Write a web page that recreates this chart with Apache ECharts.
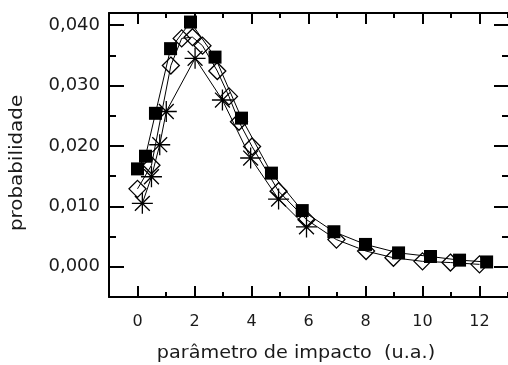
<!DOCTYPE html>
<html>
<head>
<meta charset="utf-8">
<script src="https://cdn.jsdelivr.net/npm/echarts@6/dist/echarts.min.js"></script>
<style>html,body{margin:0;padding:0;background:#fff;}#c{width:508px;height:365px;}</style>
</head>
<body>
<div id="c"></div>
<script>
// Data
var squareX = [0.0, 0.28, 0.63, 1.16, 1.86, 2.72, 3.65, 4.70, 5.78, 6.89, 8.0, 9.16, 10.28, 11.3, 12.25];
var squareY = [0.0162, 0.0183, 0.0254, 0.0361, 0.0405, 0.0347, 0.0246, 0.0155, 0.0093, 0.0058, 0.0037, 0.0023, 0.0017, 0.0011, 0.0008];
var diamondX = [0.0, 0.49, 1.17, 1.55, 1.93, 2.28, 2.80, 3.21, 3.56, 4.02, 4.95, 5.93, 6.98, 8.02, 8.98, 10.0, 10.98, 12.0];
var diamondY = [0.0129, 0.0168, 0.0333, 0.0378, 0.0380, 0.0366, 0.0324, 0.0282, 0.0240, 0.0199, 0.0125, 0.0078, 0.0045, 0.0026, 0.0015, 0.0009, 0.0007, 0.0004];
var starX = [0.17, 0.49, 0.78, 1.01, 2.02, 2.98, 3.97, 4.95, 5.93];
var starY = [0.0105, 0.0149, 0.0202, 0.0257, 0.0345, 0.0276, 0.0180, 0.0112, 0.0066];
var xMajorTicks = [0, 2, 4, 6, 8, 10, 12];
var xMinorTicks = [-1, 1, 3, 5, 7, 9, 11, 13];
var yMajorTicks = [0, 0.01, 0.02, 0.03, 0.04];
var yMinorTicks = [0.005, 0.015, 0.025, 0.035];
var xTitle = 'parâmetro de impacto  (u.a.)';
var yTitle = 'probabilidade';

function zip(a, b) { return a.map(function (v, i) { return [v, b[i]]; }); }

var FONT = 'DejaVu Sans';
var TXT = '#1a1a1a';

function xAx(pos, ticks, len, showLine, showLabel) {
  return {
    type: 'value', position: pos, min: -1, max: 13, interval: 1,
    axisLine: { show: showLine, onZero: false, lineStyle: { color: '#000', width: 2 } },
    axisTick: { show: true, inside: true, length: len, customValues: ticks, lineStyle: { color: '#000', width: 2 } },
    axisLabel: { show: showLabel, customValues: xMajorTicks, margin: 17, color: TXT, fontFamily: FONT, fontSize: 16 },
    splitLine: { show: false }
  };
}
function yAx(pos, ticks, len, showLine, showLabel) {
  return {
    type: 'value', position: pos, min: -0.005, max: 0.042, interval: 0.005,
    axisLine: { show: showLine, onZero: false, lineStyle: { color: '#000', width: 2 } },
    axisTick: { show: true, inside: true, length: len, customValues: ticks, lineStyle: { color: '#000', width: 2 } },
    axisLabel: { show: showLabel, customValues: yMajorTicks, margin: 9, color: TXT, fontFamily: FONT, fontSize: 18,
      formatter: function (v) { return v.toFixed(3).replace('.', ','); } },
    splitLine: { show: false }
  };
}

var chart = echarts.init(document.getElementById('c'), null, { renderer: 'canvas' });
chart.setOption({
  animation: false,
  backgroundColor: '#fff',
  grid: { left: 109, top: 13, right: -3, bottom: 68, containLabel: false },
  xAxis: [
    xAx('bottom', xMajorTicks, 11, true, true),
    xAx('bottom', xMinorTicks, 5, false, false),
    xAx('top', xMajorTicks, 11, true, false),
    xAx('top', xMinorTicks, 5, false, false)
  ],
  yAxis: [
    yAx('left', yMajorTicks, 15, true, true),
    yAx('left', yMinorTicks, 7, false, false),
    yAx('right', yMajorTicks, 14, false, false),
    yAx('right', yMinorTicks, 6, false, false)
  ],
  graphic: [
    { type: 'text', x: 296, y: 354, scaleX: 1.13, style: { text: xTitle, fill: TXT, font: '17px "DejaVu Sans"', textAlign: 'center', textVerticalAlign: 'middle' } },
    { type: 'text', x: 18, y: 163, rotation: Math.PI / 2, scaleX: 1.17, style: { text: yTitle, fill: TXT, font: '17px "DejaVu Sans"', textAlign: 'center', textVerticalAlign: 'middle' } }
  ],
  series: [
    {
      type: 'line', data: zip(starX, starY), symbol: 'path://M0,-10L0,10M-10,0L10,0M-7.07,-7.07L7.07,7.07M-7.07,7.07L7.07,-7.07',
      symbolSize: 21, lineStyle: { color: '#000', width: 1 },
      itemStyle: { color: 'rgba(0,0,0,0)', borderColor: '#000', borderWidth: 1.3 }, z: 2
    },
    {
      type: 'line', data: zip(diamondX, diamondY), symbol: 'diamond', symbolSize: [17, 17],
      lineStyle: { color: '#000', width: 1 },
      itemStyle: { color: 'rgba(0,0,0,0)', borderColor: '#000', borderWidth: 1.3 }, z: 3
    },
    {
      type: 'line', data: zip(squareX, squareY), symbol: 'rect', symbolSize: 13,
      lineStyle: { color: '#000', width: 1 },
      itemStyle: { color: '#000' }, z: 4
    }
  ]
});
</script>
</body>
</html>
